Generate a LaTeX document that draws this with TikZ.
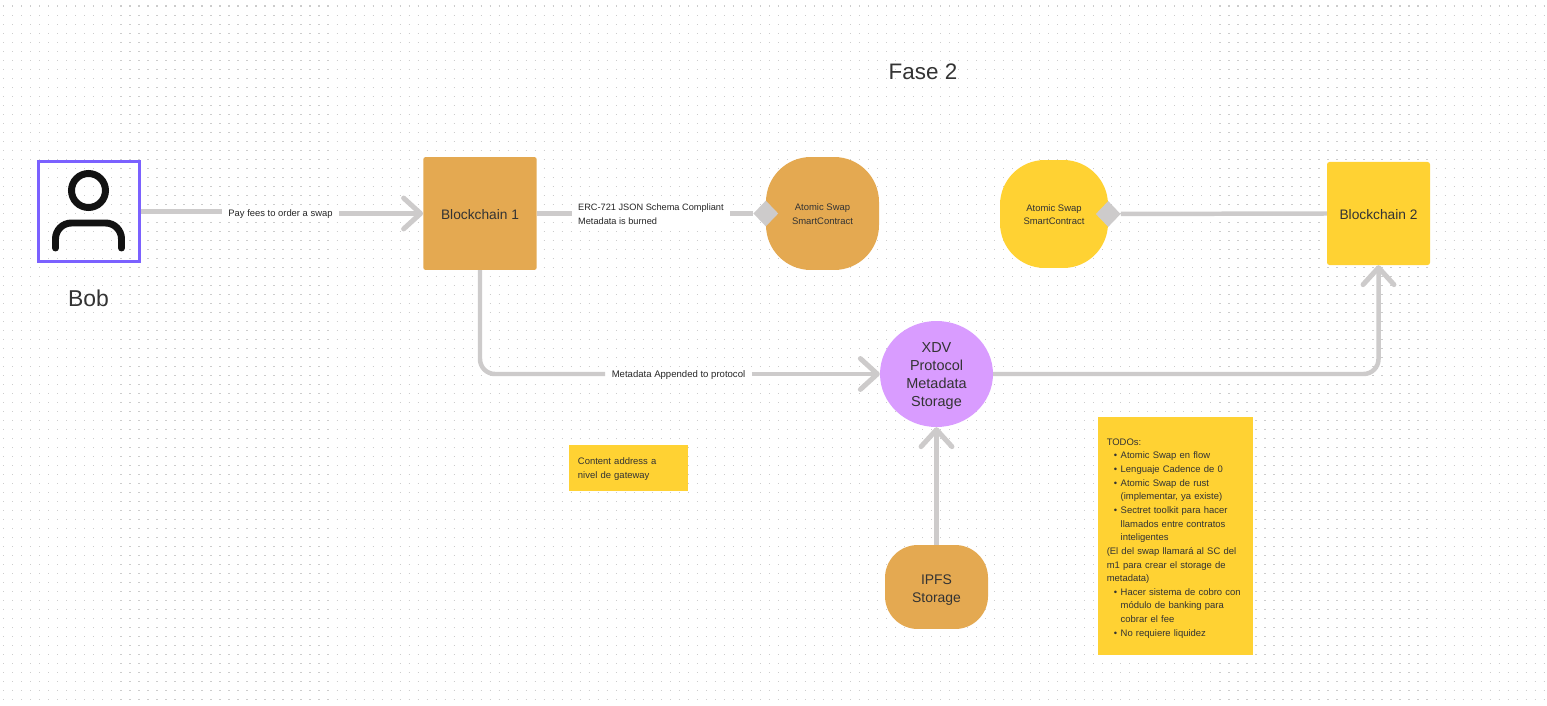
\documentclass[tikz,border=0pt]{standalone}
\usepackage{fontspec}
\setmainfont{Liberation Sans}
\usetikzlibrary{arrows.meta,shapes.geometric}

\definecolor{chainorange}{HTML}{E4A951}
\definecolor{noteyellow}{HTML}{FFD233}
\definecolor{storepurple}{HTML}{D99CFF}
\definecolor{linegray}{HTML}{CDCBCB}
\definecolor{bobpurple}{HTML}{7B61FF}
\definecolor{inkgray}{HTML}{333333}

\newcommand{\todobullet}{\makebox[14pt][r]{\textbullet\hspace{3.5pt}}}
\newcommand{\todoindent}{\hspace*{14pt}}
\newcommand{\textdrop}[1]{\rule{0pt}{#1pt}}

\tikzset{
  chainbox/.style={rounded corners=2.5pt, inner sep=0pt, text=inkgray, font=\fontsize{13.8}{17}\selectfont},
  swapbox/.style={rounded corners=45pt, minimum width=113.4pt, minimum height=113.4pt, inner sep=0pt,
    align=center, text=inkgray, font=\fontsize{9.5}{13.6}\selectfont},
  notebox/.style={fill=noteyellow, inner ysep=0pt, inner xsep=8.5pt, align=left, text=inkgray,
    font=\fontsize{9.5}{13.7}\selectfont},
  joint/.style={diamond, aspect=1, fill=linegray, minimum width=25pt, minimum height=26pt, inner sep=0pt},
  edgelabel/.style={fill=white, inner xsep=6.5pt, inner ysep=1pt, text=black!85, align=left,
    font=\fontsize{9.6}{13.6}\selectfont},
  link/.style={draw=linegray, line width=4.5pt},
  linkarrow/.style={link, -{Straight Barb[length=17pt,width=31pt,line width=5pt,round]}},
  bobicon/.style={draw=black!93, line width=7pt, line cap=round},
  canvasdots/.style={draw=black!20, line width=1.2bp, dash pattern=on 1.2bp off 7.808bp}
}

\begin{document}
\begin{tikzpicture}[x=1bp, y=-1bp]
  \useasboundingbox (0,0) rectangle (1547,706);
  \fill[white] (0,0) rectangle (1547,706);

  % Dotted canvas
  \foreach \j in {0,...,77} {
    \draw[canvasdots] (3.2,6.1+9.008*\j) -- (1547,6.1+9.008*\j);
  }

  % Title
  \node[text=inkgray, font=\fontsize{22.5}{26}\selectfont] (title) at (923,72) {Fase 2};

  % Bob and his icon
  \node[draw=bobpurple, line width=3pt, minimum width=100.4pt, minimum height=100.4pt, inner sep=0pt] (bob) at (89,211.5) {};
  \draw[bobicon] (88.5,190.5) circle (17);
  \draw[bobicon, rounded corners=16pt] (55.5,248) -- (55.5,223) -- (121.5,223) -- (121.5,248);
  \node[text=inkgray, font=\fontsize{23}{27}\selectfont] (bobname) at (88.5,298) {Bob};

  % Blockchains
  \node[chainbox, fill=chainorange, minimum width=113.9pt, minimum height=113.4pt] (chain1) at (480,213.5) {\textdrop{12}Blockchain 1};
  \node[chainbox, fill=noteyellow, minimum width=103.4pt, minimum height=103.4pt] (chain2) at (1378.5,213.5) {\textdrop{12}Blockchain 2};

  % Swap contracts
  \node[swapbox, fill=chainorange] (swap1) at (822.5,213.5) {\textdrop{8.5}Atomic Swap\\SmartContract};
  \node[swapbox, fill=noteyellow, minimum width=108.4pt, minimum height=108.4pt] (swap2) at (1054,214) {\textdrop{8.5}Atomic Swap\\SmartContract};
  \node[joint] (joint1) at (swap1.west) {};
  \node[joint] (joint2) at (swap2.east) {};

  % Storage
  \node[ellipse, fill=storepurple, minimum width=113.4pt, minimum height=106.4pt, inner sep=0pt, align=center,
    text=inkgray, font=\fontsize{14.5}{18.2}\selectfont] (xdv) at (936.5,374) {\textdrop{14.5}XDV\\Protocol\\Metadata\\Storage};
  \node[fill=chainorange, rounded corners=33pt, minimum width=103.4pt, minimum height=84.3pt, inner sep=0pt, align=center,
    text=inkgray, font=\fontsize{14}{18}\selectfont] (ipfs) at (936.5,587) {\textdrop{16}IPFS\\Storage};

  % Notes
  \node[notebox, minimum height=46.2pt, text width=102pt] (gateway) at (628.75,468) {\textdrop{9}Content address a\\nivel de gateway};
  \node[notebox, minimum height=238.4pt, text width=138.5pt] (todos) at (1175.75,536.25) {\textdrop{11}TODOs:\\
    \todobullet Atomic Swap en flow\\
    \todobullet Lenguaje Cadence de 0\\
    \todobullet Atomic Swap de rust\\
    \todoindent (implementar, ya existe)\\
    \todobullet Sectret toolkit para hacer\\
    \todoindent llamados entre contratos\\
    \todoindent inteligentes\\
    (El del swap llamará al SC del\\
    m1 para crear el storage de\\
    metadata)\\
    \todobullet Hacer sistema de cobro con\\
    \todoindent módulo de banking para\\
    \todoindent cobrar el fee\\
    \todobullet No requiere liquidez};

  % Labels on the connectors
  \node[edgelabel, font=\fontsize{9.45}{13.6}\selectfont] (feeslabel) at (280.5,214) {Pay fees to order a swap};
  \node[edgelabel, anchor=west, font=\fontsize{9.25}{13.6}\selectfont] (erclabel) at (571.5,213.5) {\textdrop{8.5}ERC-721 JSON Schema Compliant\\Metadata is burned};
  \node[edgelabel] (metalabel) at (678.5,374) {\textdrop{9}Metadata Appended to protocol};

  % Connectors
  \draw[link] (bob.east) -- (bob.east -| feeslabel.west);
  \draw[linkarrow] (feeslabel.east |- chain1.west) -- (chain1.west);
  \draw[link] (chain1.east) -- (erclabel.west);
  \draw[link] (erclabel.east) -- (joint1);
  \draw[link] (joint2) -- (chain2.west);
  \draw[link, rounded corners=15pt] (chain1.south) |- (metalabel.west);
  \draw[linkarrow] (metalabel.east) -- (xdv.west);
  \draw[linkarrow, rounded corners=15pt] (xdv.east) -| (chain2.south);
  \draw[linkarrow] (ipfs.north) -- (xdv.south);
\end{tikzpicture}
\end{document}
